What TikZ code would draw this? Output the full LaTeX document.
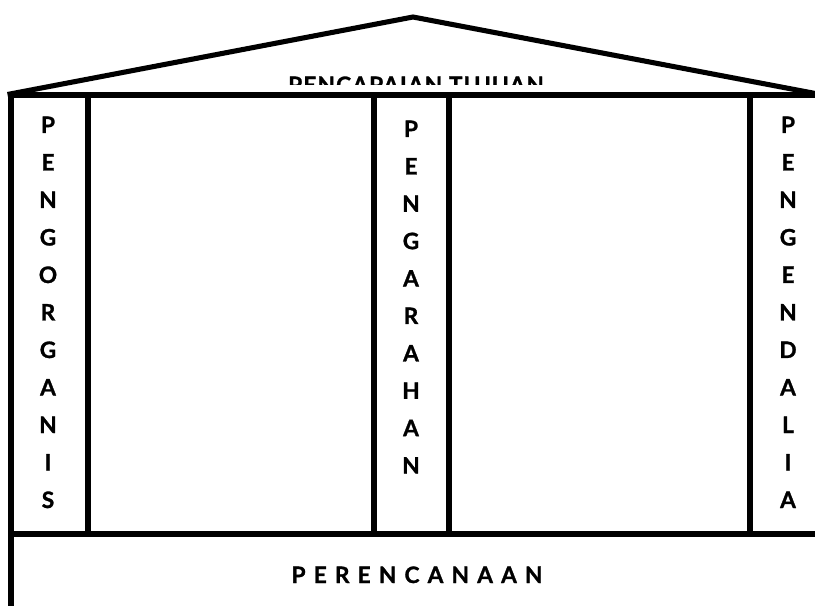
\documentclass[tikz,border=0pt]{standalone}
\usepackage{fontspec}
\setmainfont{Lato}[BoldFeatures={FakeBold=1.2}]
\begin{document}
\begin{tikzpicture}[x=0.75pt,y=-0.75pt,
  wall/.style={line width=3.8pt,line cap=rect,line join=miter},
  lt/.style={font=\fontsize{17}{17}\selectfont\bfseries,anchor=base,inner sep=0pt}]
\useasboundingbox (0,0) rectangle (815,606);
\clip (0,0) rectangle (815,606);
% roof text (partly hidden by the building)
\node[lt] (goal) at (416,93) {\addfontfeature{LetterSpace=5}PENCAPAIAN TUJUAN};
\fill[white] (0,85) rectangle (815,93);
% roof
\draw[wall] (10,94) -- (413,17) -- (818,94);
% building frame
\draw[wall] (11,620) -- (11,95) -- (830,95);
\draw[wall] (11,534) -- (830,534);
\draw[wall] (88,95) -- (88,534);
\draw[wall] (374,95) -- (374,534);
\draw[wall] (449,95) -- (449,534);
\draw[wall] (750,95) -- (750,534);
% pillars
\foreach \l [count=\i from 0] in {P,E,N,G,O,R,G,A,N,I,S}
  \node[lt] (L\i) at (48,{133+37.5*\i}) {\l};
\foreach \l [count=\i from 0] in {P,E,N,G,A,R,A,H,A,N}
  \node[lt] (M\i) at (411,{137+37.4*\i}) {\l};
\foreach \l [count=\i from 0] in {P,E,N,G,E,N,D,A,L,I,A}
  \node[lt] (R\i) at (788,{133+37.5*\i}) {\l};
% foundation
\node[lt] (plan) at (417,583) {\addfontfeature{LetterSpace=36}PERENCANAAN};
\end{tikzpicture}
\end{document}
